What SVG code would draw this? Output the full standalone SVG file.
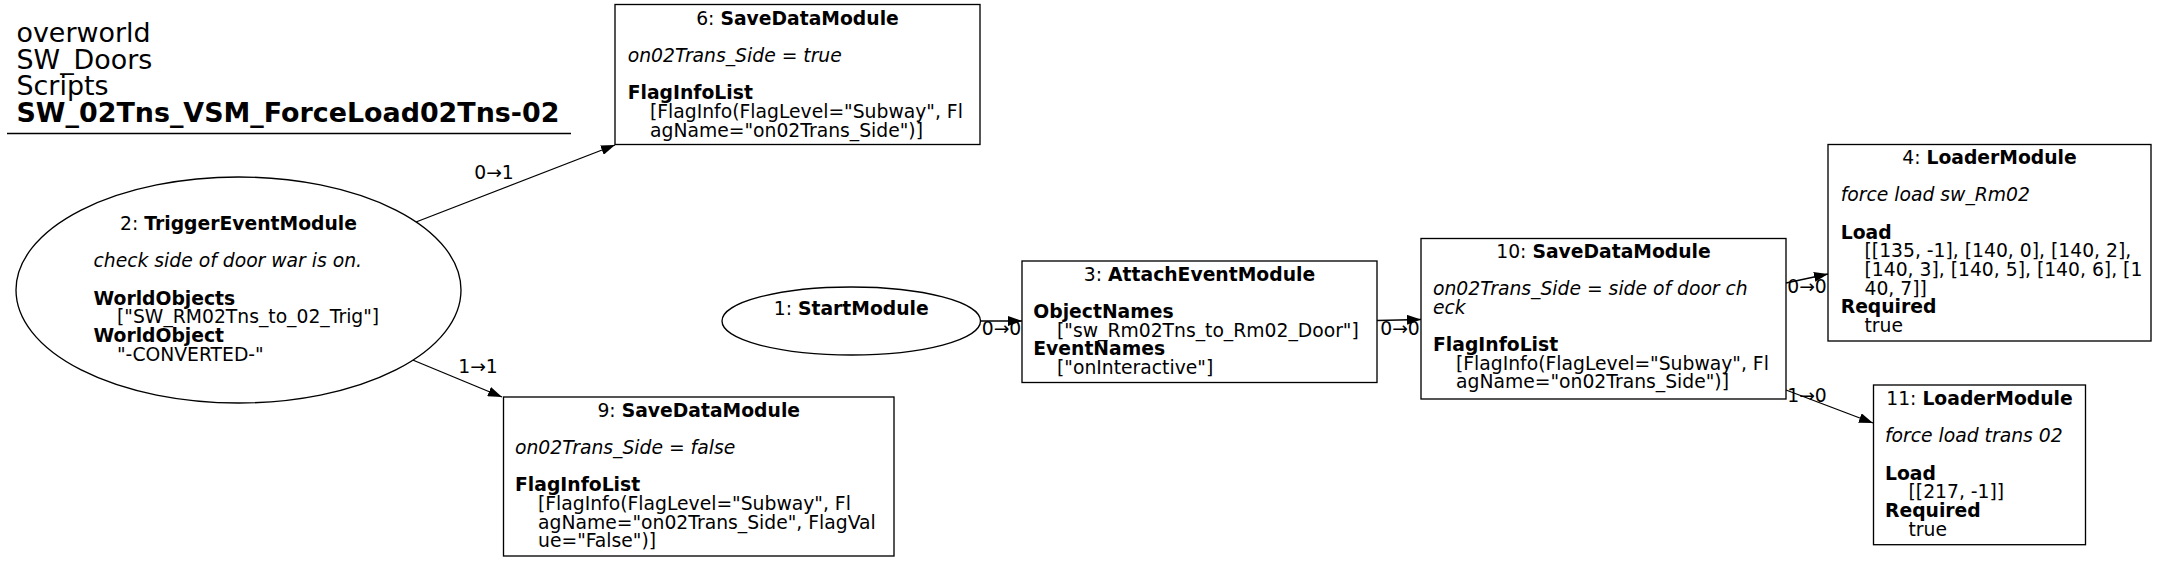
<svg xmlns="http://www.w3.org/2000/svg" width="2157" height="563" viewBox="0 0 2157 563">
<style>
text{font-family:"DejaVu Sans","Liberation Sans",sans-serif;font-size:18.75px;fill:#000}
.t{font-size:26.9px}
.b{font-weight:bold}
.i{font-style:italic}
.m{text-anchor:middle}
.n{fill:#fff;stroke:#000;stroke-width:1.33}
.e{fill:none;stroke:#000;stroke-width:1.33}
</style>
<defs>
<marker id="ah" markerUnits="userSpaceOnUse" markerWidth="14" markerHeight="10" refX="14" refY="5" orient="auto">
<path d="M0,0 L14,5 L0,10 z" fill="#000"/>
</marker>
</defs>
<rect width="2157" height="563" fill="#fff"/>
<g id="title">
<text class="t" x="16.5" y="42">overworld</text>
<text class="t" x="16.5" y="68.7">SW_Doors</text>
<text class="t" x="16.5" y="95.3">Scripts</text>
<text class="t b" x="16.5" y="122">SW_02Tns_VSM_ForceLoad02Tns-02</text>
<line x1="7" y1="133.5" x2="571" y2="133.5" stroke="#000" stroke-width="1.33"/>
</g>
<g id="connectors">
<line class="e" x1="416" y1="222" x2="615" y2="145" marker-end="url(#ah)"/>
<text class="m" x="494" y="179">0→1</text>
<line class="e" x1="412.7" y1="360" x2="502" y2="397" marker-end="url(#ah)"/>
<text class="m" x="478" y="373">1→1</text>
<line class="e" x1="980.5" y1="321" x2="1022" y2="321" marker-end="url(#ah)"/>
<text class="m" x="1001.5" y="335">0→0</text>
<line class="e" x1="1377" y1="320.5" x2="1421" y2="319.5" marker-end="url(#ah)"/>
<text class="m" x="1400" y="335">0→0</text>
<line class="e" x1="1786" y1="283" x2="1828" y2="274" marker-end="url(#ah)"/>
<text class="m" x="1807" y="293">0→0</text>
<line class="e" x1="1786" y1="390" x2="1873" y2="423" marker-end="url(#ah)"/>
<text class="m" x="1807" y="402">1→0</text>
</g>
<g id="node2">
<ellipse class="n" cx="238.5" cy="290" rx="222.5" ry="113"/>
<text class="m" x="238.5" y="229.8">2: <tspan class="b">TriggerEventModule</tspan></text>
<text class="i" x="93.5" y="267.1">check side of door war is on.</text>
<text class="b" x="93.5" y="304.5">WorldObjects</text>
<text x="117" y="323.1">["SW_RM02Tns_to_02_Trig"]</text>
<text class="b" x="93.5" y="341.8">WorldObject</text>
<text x="117" y="360.5">"-CONVERTED-"</text>
</g>
<g id="node6">
<rect class="n" x="615" y="4.5" width="365" height="140"/>
<text class="m" x="797.5" y="24.5">6: <tspan class="b">SaveDataModule</tspan></text>
<text class="i" x="627.7" y="61.8">on02Trans_Side = true</text>
<text class="b" x="627.7" y="99.2">FlagInfoList</text>
<text x="650" y="117.8">[FlagInfo(FlagLevel="Subway", Fl</text>
<text x="650" y="136.5">agName="on02Trans_Side")]</text>
</g>
<g id="node9">
<rect class="n" x="503.5" y="397" width="390.5" height="159"/>
<text class="m" x="698.75" y="416.5">9: <tspan class="b">SaveDataModule</tspan></text>
<text class="i" x="515" y="453.8">on02Trans_Side = false</text>
<text class="b" x="515" y="491.2">FlagInfoList</text>
<text x="538" y="509.8">[FlagInfo(FlagLevel="Subway", Fl</text>
<text x="538" y="528.5">agName="on02Trans_Side", FlagVal</text>
<text x="538" y="547.2">ue="False")]</text>
</g>
<g id="node1">
<ellipse class="n" cx="851.25" cy="321" rx="129.25" ry="34"/>
<text class="m" x="851.25" y="315">1: <tspan class="b">StartModule</tspan></text>
</g>
<g id="node3">
<rect class="n" x="1022" y="261" width="355" height="121.5"/>
<text class="m" x="1199.5" y="280.5">3: <tspan class="b">AttachEventModule</tspan></text>
<text class="b" x="1033.3" y="317.8">ObjectNames</text>
<text x="1057" y="336.5">["sw_Rm02Tns_to_Rm02_Door"]</text>
<text class="b" x="1033.3" y="355.2">EventNames</text>
<text x="1057" y="373.8">["onInteractive"]</text>
</g>
<g id="node10">
<rect class="n" x="1421" y="238.5" width="365" height="160.5"/>
<text class="m" x="1603.5" y="257.5">10: <tspan class="b">SaveDataModule</tspan></text>
<text class="i" x="1433" y="294.8">on02Trans_Side = side of door ch</text>
<text class="i" x="1433" y="313.5">eck</text>
<text class="b" x="1433" y="350.8">FlagInfoList</text>
<text x="1456" y="369.5">[FlagInfo(FlagLevel="Subway", Fl</text>
<text x="1456" y="388.2">agName="on02Trans_Side")]</text>
</g>
<g id="node4">
<rect class="n" x="1828" y="144.5" width="323" height="196.5"/>
<text class="m" x="1989.5" y="164">4: <tspan class="b">LoaderModule</tspan></text>
<text class="i" x="1840.7" y="201.3">force load sw_Rm02</text>
<text class="b" x="1840.7" y="238.7">Load</text>
<text x="1864.5" y="257.3">[[135, -1], [140, 0], [140, 2],</text>
<text x="1864.5" y="276">[140, 3], [140, 5], [140, 6], [1</text>
<text x="1864.5" y="294.7">40, 7]]</text>
<text class="b" x="1840.7" y="313.3">Required</text>
<text x="1864.5" y="332">true</text>
</g>
<g id="node11">
<rect class="n" x="1873.5" y="385" width="212" height="159.7"/>
<text class="m" x="1979.5" y="405">11: <tspan class="b">LoaderModule</tspan></text>
<text class="i" x="1885" y="442.3">force load trans 02</text>
<text class="b" x="1885" y="479.7">Load</text>
<text x="1908.5" y="498.3">[[217, -1]]</text>
<text class="b" x="1885" y="517">Required</text>
<text x="1908.5" y="535.7">true</text>
</g>
</svg>
